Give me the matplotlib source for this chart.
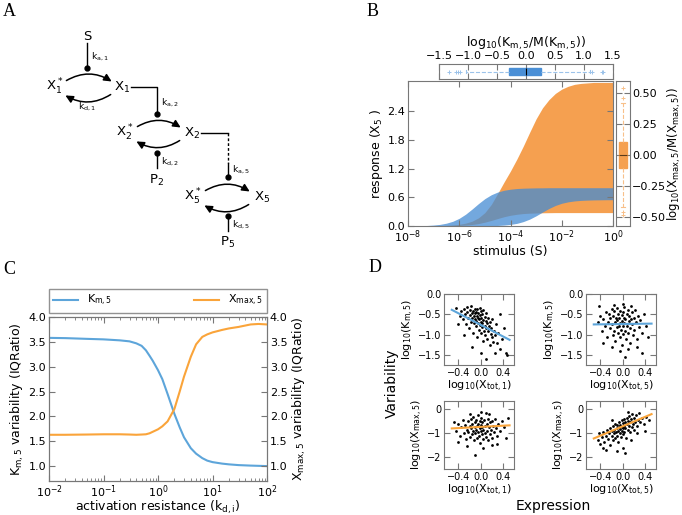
import numpy as np
import matplotlib
matplotlib.use("Agg")
import matplotlib.pyplot as plt
from matplotlib.patches import FancyArrowPatch

BLUE = '#5DA5DA'
ORANGE = '#FAA43A'
FILL_BLUE = '#448BD3'
FILL_ORANGE = '#F5A050'
BOX_BLUE = '#4A8FD6'
LIGHT_BLUE = '#9CC3EA'
LIGHT_ORANGE = '#F8C08A'
GREY = '#777777'

# ---- panel B: response bands (log10 stimulus grid) ----
stim_exp = [-8.0, -7.75, -7.5, -7.25, -7.0, -6.75, -6.5, -6.25, -6.0, -5.75, -5.5,
            -5.25, -5.0, -4.75, -4.5, -4.25, -4.0, -3.75, -3.5, -3.25, -3.0, -2.75,
            -2.5, -2.25, -2.0, -1.75, -1.5, -1.25, -1.0, -0.75, -0.5, -0.25, 0.0]
km_band_hi = [0.002, 0.004, 0.006, 0.011, 0.02, 0.034, 0.059, 0.099, 0.161, 0.247, 0.354,
              0.468, 0.572, 0.653, 0.71, 0.747, 0.769, 0.783, 0.79, 0.794, 0.797, 0.798,
              0.8, 0.8, 0.8, 0.8, 0.8, 0.8, 0.8, 0.8, 0.8, 0.8, 0.8]
km_band_lo = [0, 0, 0, 0, 0, 0, 0, 0, 0, 0.001, 0.001,
              0.002, 0.003, 0.006, 0.011, 0.019, 0.033, 0.055, 0.092, 0.144, 0.213, 0.291,
              0.366, 0.429, 0.475, 0.505, 0.524, 0.535, 0.541, 0.545, 0.547, 0.549, 0.549]
xmax_band_hi = [0.0, 0.0, 0.001, 0.002, 0.004, 0.007, 0.012, 0.021, 0.035, 0.06, 0.1,
                0.17, 0.28, 0.45, 0.68, 0.92, 1.15, 1.4, 1.67, 1.96, 2.24, 2.47,
                2.64, 2.77, 2.86, 2.92, 2.96, 2.98, 2.99, 3.0, 3.0, 3.0, 3.0]
xmax_band_lo = [0, 0, 0, 0.001, 0.001, 0.002, 0.003, 0.006, 0.011, 0.019, 0.031,
                0.051, 0.08, 0.116, 0.156, 0.194, 0.224, 0.245, 0.26, 0.268, 0.272, 0.276,
                0.278, 0.28, 0.28, 0.28, 0.28, 0.28, 0.28, 0.28, 0.28, 0.28, 0.28]

# box summaries: whisker low, q1, median, q3, whisker high
km_box = [-1.03, -0.29, 0.0, 0.26, 1.1]
km_fliers = [-1.32, -1.21, -1.18, -1.14, 1.13, 1.31, 1.33]
xmax_box = [-0.42, -0.105, 0.0, 0.105, 0.42]
xmax_fliers = [0.54, 0.46, -0.46, -0.48]

# ---- panel C: variability vs activation resistance ----
kd = [0.01, 0.02, 0.05, 0.1, 0.2, 0.3, 0.4, 0.5, 0.6, 0.7, 0.8, 1.0, 1.2, 1.5,
      2.0, 2.5, 3.0, 4.0, 5.0, 6.5, 8, 10, 15, 20, 30, 50, 70, 100]
km_var = [3.58, 3.575, 3.56, 3.55, 3.53, 3.51, 3.47, 3.42, 3.33, 3.22, 3.12, 2.93, 2.75, 2.45,
          2.05, 1.78, 1.58, 1.36, 1.25, 1.16, 1.11, 1.08, 1.05, 1.035, 1.02, 1.01, 1.005, 1.0]
xmax_var = [1.63, 1.63, 1.635, 1.64, 1.64, 1.635, 1.63, 1.635, 1.64, 1.66, 1.69, 1.74, 1.8, 1.9,
            2.15, 2.5, 2.8, 3.2, 3.45, 3.6, 3.65, 3.69, 3.74, 3.77, 3.8, 3.85, 3.86, 3.85]

# ---- panel D: scatter clouds ----
tl_x = [-0.45, -0.38, -0.35, -0.32, -0.3, -0.28, -0.27, -0.25, -0.24, -0.22, -0.21, -0.2, -0.19, -0.18,
        -0.17, -0.16, -0.15, -0.14, -0.13, -0.12, -0.12, -0.11, -0.1, -0.1, -0.09, -0.08, -0.08, -0.07,
        -0.06, -0.06, -0.05, -0.05, -0.04, -0.03, -0.03, -0.02, -0.02, -0.01, 0.0, 0.0, 0.01, 0.01,
        0.02, 0.03, 0.03, 0.04, 0.05, 0.05, 0.06, 0.07, 0.07, 0.08, 0.09, 0.1, 0.1, 0.11, 0.12, 0.13,
        0.14, 0.15, 0.16, 0.17, 0.18, 0.19, 0.2, 0.21, 0.22, 0.24, 0.26, 0.28, 0.3, 0.32, 0.35, 0.38,
        0.42, 0.45, -0.15, 0.0, 0.1, 0.25, -0.3, 0.35, -0.4, 0.48]
tl_y = [-0.35, -0.55, -0.42, -0.62, -0.38, -0.5, -0.75, -0.45, -0.33, -0.6, -0.85, -0.4, -0.52, -0.68,
        -0.3, -0.47, -0.58, -0.95, -0.41, -0.55, -0.72, -0.36, -0.62, -0.48, -0.8, -0.44, -0.66, -0.53,
        -1.05, -0.38, -0.71, -0.58, -0.46, -0.88, -0.62, -0.35, -0.77, -0.52, -0.68, -0.95, -0.43, -0.6,
        -0.82, -0.5, -0.72, -1.15, -0.64, -0.4, -0.9, -0.57, -0.78, -1.0, -0.66, -0.48, -0.85, -0.72,
        -1.1, -0.6, -0.92, -0.78, -1.25, -0.68, -0.98, -0.85, -1.05, -0.62, -1.18, -0.9, -1.02, -0.75,
        -1.2, -0.95, -1.35, -1.1, -0.85, -1.45, -1.3, -1.45, -1.6, -1.45, -1.0, -0.5, -0.75, -1.5]
tr_x = [-0.45, -0.4, -0.38, -0.35, -0.32, -0.3, -0.28, -0.26, -0.25, -0.23, -0.22, -0.2, -0.19, -0.18,
        -0.17, -0.16, -0.15, -0.14, -0.13, -0.12, -0.11, -0.1, -0.1, -0.09, -0.08, -0.07, -0.06, -0.05,
        -0.05, -0.04, -0.03, -0.02, -0.02, -0.01, 0.0, 0.0, 0.01, 0.02, 0.03, 0.03, 0.04, 0.05, 0.06,
        0.07, 0.08, 0.09, 0.1, 0.11, 0.12, 0.13, 0.14, 0.15, 0.16, 0.17, 0.18, 0.2, 0.21, 0.22, 0.24,
        0.26, 0.28, 0.3, 0.32, 0.35, 0.38, 0.42, -0.05, 0.1, -0.2, 0.05, 0.35, -0.35, 0.0, 0.15,
        -0.15, 0.25, -0.42, 0.45]
tr_y = [-0.7, -0.55, -0.9, -0.62, -0.8, -0.45, -1.05, -0.68, -0.5, -0.85, -0.6, -0.38, -0.75, -1.0,
        -0.55, -0.9, -0.42, -0.7, -1.15, -0.58, -0.82, -0.35, -0.65, -0.95, -0.5, -0.78, -0.6, -1.05,
        -0.42, -0.72, -0.88, -0.52, -1.25, -0.66, -0.8, -0.45, -0.98, -0.58, -0.72, -0.32, -0.9, -0.62,
        -1.1, -0.5, -0.78, -0.4, -0.95, -0.66, -0.55, -0.85, -1.2, -0.62, -0.45, -0.75, -1.0, -0.58,
        -0.88, -0.4, -0.7, -1.1, -0.55, -0.82, -0.65, -0.95, -0.5, -0.78, -1.4, -1.35, -1.3, -1.55,
        -1.45, -1.2, -0.25, -0.3, -0.28, -1.3, -0.3, -1.05]
bl_x = [-0.45, -0.4, -0.38, -0.35, -0.32, -0.3, -0.28, -0.26, -0.25, -0.23, -0.22, -0.2, -0.19, -0.18,
        -0.17, -0.16, -0.15, -0.14, -0.13, -0.12, -0.11, -0.1, -0.1, -0.09, -0.08, -0.07, -0.06, -0.05,
        -0.05, -0.04, -0.03, -0.02, -0.02, -0.01, 0.0, 0.0, 0.01, 0.02, 0.03, 0.03, 0.04, 0.05, 0.06,
        0.07, 0.08, 0.09, 0.1, 0.11, 0.12, 0.13, 0.14, 0.15, 0.16, 0.17, 0.18, 0.2, 0.21, 0.22, 0.24,
        0.26, 0.28, 0.3, 0.32, 0.35, 0.38, 0.42, 0.5, -0.1, 0.05, -0.25, 0.2, -0.4, 0.0, -0.2,
        0.15, 0.3, -0.48, 0.45]
bl_y = [-0.9, -0.6, -1.1, -0.75, -0.45, -1.0, -0.65, -1.25, -0.85, -0.5, -0.95, -0.7, -1.15, -0.4,
        -0.8, -1.05, -0.6, -0.9, -0.3, -1.3, -0.75, -0.55, -1.0, -0.85, -0.45, -1.2, -0.7, -0.95,
        -0.25, -0.6, -1.1, -0.8, -0.5, -1.4, -0.9, -0.65, -0.35, -1.05, -0.75, -0.55, -1.25, -0.85,
        -0.45, -1.0, -0.7, -0.15, -1.15, -0.6, -0.9, -0.4, -1.3, -0.75, -0.55, -1.05, -0.85, -0.5,
        -1.2, -0.7, -0.95, -0.4, -0.8, -1.1, -0.6, -0.9, -0.5, -0.75, -0.35, -1.9, -1.6, -1.55,
        -1.5, -1.35, -0.1, -0.2, -0.2, -1.45, -0.55, -1.2]
br_x = [-0.45, -0.42, -0.4, -0.38, -0.35, -0.33, -0.3, -0.28, -0.27, -0.25, -0.23, -0.22, -0.2, -0.19,
        -0.18, -0.17, -0.16, -0.15, -0.14, -0.13, -0.12, -0.11, -0.1, -0.1, -0.09, -0.08, -0.07, -0.06,
        -0.05, -0.05, -0.04, -0.03, -0.02, -0.02, -0.01, 0.0, 0.0, 0.01, 0.02, 0.03, 0.03, 0.04, 0.05,
        0.06, 0.07, 0.08, 0.09, 0.1, 0.11, 0.12, 0.13, 0.14, 0.15, 0.16, 0.17, 0.18, 0.2, 0.21, 0.22,
        0.24, 0.26, 0.28, 0.3, 0.32, 0.35, 0.38, 0.42, 0.48, -0.1, 0.0, -0.3, 0.15, 0.05, -0.2,
        0.1, -0.35, 0.25, 0.4]
br_y = [-1.3, -1.0, -1.45, -1.15, -0.95, -1.35, -1.1, -0.85, -1.25, -1.0, -1.5, -0.8, -1.1, -0.9,
        -1.3, -0.7, -1.0, -0.85, -1.2, -0.6, -0.95, -0.8, -1.1, -0.65, -0.9, -1.35, -0.75, -0.55,
        -1.0, -0.82, -0.65, -1.15, -0.45, -0.9, -0.72, -0.58, -1.05, -0.8, -0.4, -0.68, -0.95, -0.52,
        -0.78, -1.2, -0.6, -0.35, -0.85, -0.5, -0.7, -0.28, -0.95, -0.55, -0.42, -0.75, -0.2, -0.6,
        -0.85, -0.38, -0.55, -0.25, -0.68, -0.45, -0.15, -0.55, -0.35, -0.6, -0.3, -0.45, -1.75, -1.6,
        -1.7, -1.3, -1.85, -0.45, -0.1, -1.6, -1.0, -0.9]

# fitted lines: x end points and y values
fit_x = [-0.52, 0.52]
tl_fit = [-0.39, -1.13]
tr_fit = [-0.75, -0.73]
bl_fit = [-0.8, -0.67]
br_fit = [-1.22, -0.2]

plt.rcParams['mathtext.default'] = 'regular'
plt.rcParams['axes.edgecolor'] = GREY
plt.rcParams['xtick.direction'] = 'in'
plt.rcParams['ytick.direction'] = 'in'
plt.rcParams['xtick.color'] = GREY
plt.rcParams['ytick.color'] = GREY
plt.rcParams['xtick.labelcolor'] = 'black'
plt.rcParams['ytick.labelcolor'] = 'black'
plt.rcParams['xtick.top'] = True
plt.rcParams['ytick.right'] = True
plt.rcParams['xtick.major.size'] = 4
plt.rcParams['ytick.major.size'] = 4
plt.rcParams['xtick.minor.size'] = 2
plt.rcParams['ytick.minor.size'] = 2

W, H = 682, 515


def px_rect(left, top, right, bottom):
    return [left / W, 1 - bottom / H, (right - left) / W, (bottom - top) / H]


def arc(ax, p0, p1):
    a = FancyArrowPatch(p0, p1, connectionstyle='arc3,rad=-0.33',
                        arrowstyle='-|>,head_length=0.45,head_width=0.22',
                        mutation_scale=10, lw=1.1, color='k')
    ax.add_patch(a)


def draw_cascade(ax):
    fs = 9.5
    ks = 6.5
    ax.text(87, 36, 'S', fontsize=fs, ha='center', va='center')
    ax.plot([87, 87], [43, 68], color='k', lw=1)
    ax.plot(87, 68, 'o', color='k', ms=3.5)
    ax.text(91, 57, '$k_{a,1}$', fontsize=ks, ha='left', va='center')
    # level 1
    ax.text(55, 87, '$X_1^*$', fontsize=fs, ha='center', va='center')
    ax.text(122, 87, '$X_1$', fontsize=fs, ha='center', va='center')
    arc(ax, (64, 82), (114, 83))
    arc(ax, (113, 93), (63, 94))
    ax.text(87, 107, '$k_{d,1}$', fontsize=ks, ha='center', va='center')
    ax.plot([131, 157, 157], [87, 87, 113], color='k', lw=1)
    ax.plot(157, 114, 'o', color='k', ms=3.5)
    ax.text(161, 103, '$k_{a,2}$', fontsize=ks, ha='left', va='center')
    # level 2
    ax.text(125, 133, '$X_2^*$', fontsize=fs, ha='center', va='center')
    ax.text(192, 133, '$X_2$', fontsize=fs, ha='center', va='center')
    arc(ax, (135, 128), (183, 129))
    arc(ax, (182, 139), (134, 140))
    ax.plot(157, 153, 'o', color='k', ms=3.5)
    ax.plot([157, 157], [153, 168], color='k', lw=1)
    ax.text(161, 162, '$k_{d,2}$', fontsize=ks, ha='left', va='center')
    ax.text(157, 180, '$P_2$', fontsize=fs, ha='center', va='center')
    ax.plot([201, 228], [133, 133], color='k', lw=1)
    ax.plot([228, 228], [133, 163], color='k', lw=1, ls=(0, (2, 1.5)))
    ax.plot([228, 228], [163, 176], color='k', lw=1)
    ax.plot(228, 177, 'o', color='k', ms=3.5)
    ax.text(232, 170, '$k_{a,5}$', fontsize=ks, ha='left', va='center')
    # level 5
    ax.text(193, 197, '$X_5^*$', fontsize=fs, ha='center', va='center')
    ax.text(262, 197, '$X_5$', fontsize=fs, ha='center', va='center')
    arc(ax, (203, 192), (252, 193))
    arc(ax, (251, 203), (202, 204))
    ax.plot(228, 216, 'o', color='k', ms=3.5)
    ax.plot([228, 228], [216, 231], color='k', lw=1)
    ax.text(232, 225, '$k_{d,5}$', fontsize=ks, ha='left', va='center')
    ax.text(228, 242, '$P_5$', fontsize=fs, ha='center', va='center')


fig = plt.figure(figsize=(6.82, 5.15), dpi=100)

canvas = fig.add_axes([0, 0, 1, 1])
canvas.set_xlim(0, W)
canvas.set_ylim(H, 0)
canvas.axis('off')
draw_cascade(canvas)
for letter, (lx, ly) in {'A': (9, 12), 'B': (373, 11), 'C': (9, 269), 'D': (375, 267)}.items():
    canvas.text(lx, ly, letter, fontsize=13, family='Liberation Serif', ha='center', va='center')
canvas.text(392, 383, 'Variability', fontsize=10, rotation=90, ha='center', va='center')
canvas.text(553, 506, 'Expression', fontsize=10, ha='center', va='center')

# ---- B main ----
stim = 10.0 ** np.array(stim_exp)
axb = fig.add_axes(px_rect(408, 81, 613, 226))
axb.fill_between(stim, xmax_band_lo, xmax_band_hi, color=FILL_ORANGE, lw=0)
axb.fill_between(stim, km_band_lo, km_band_hi, color=FILL_BLUE, alpha=0.75, lw=0)
axb.set_xscale('log')
axb.set_xlim(1e-8, 1)
axb.set_ylim(0, 3.03)
axb.set_xticks([1e-8, 1e-6, 1e-4, 1e-2, 1])
axb.set_yticks([0, 0.6, 1.2, 1.8, 2.4])
axb.tick_params(labelsize=8, pad=2)
axb.set_xlabel('stimulus (S)', fontsize=9, labelpad=0)
axb.set_ylabel('response (X$_5$ )', fontsize=9, labelpad=2)

# top box: Km spread
axt = fig.add_axes(px_rect(439, 64, 613, 79))
kst = [dict(whislo=km_box[0], q1=km_box[1], med=km_box[2], q3=km_box[3],
            whishi=km_box[4], fliers=np.array(km_fliers))]
axt.bxp(kst, orientation='horizontal', widths=0.5, patch_artist=True,
        boxprops=dict(facecolor=BOX_BLUE, edgecolor=BOX_BLUE),
        medianprops=dict(color='k', lw=0.8),
        whiskerprops=dict(color=LIGHT_BLUE, ls='--', lw=0.8),
        capprops=dict(color=LIGHT_BLUE, lw=0.8),
        flierprops=dict(marker='+', markeredgecolor=LIGHT_BLUE, markersize=3, markeredgewidth=0.7))
axt.set_xlim(-1.5, 1.5)
axt.set_ylim(0.5, 1.5)
axt.set_yticks([])
axt.set_xticks([-1.5, -1.0, -0.5, 0.0, 0.5, 1.0, 1.5])
axt.xaxis.tick_top()
axt.tick_params(axis='x', top=True, bottom=True, labeltop=True, labelbottom=False, labelsize=8, pad=2)
axt.xaxis.set_label_position('top')
axt.set_xlabel('log$_{10}$(K$_{m,5}$/M(K$_{m,5}$))', fontsize=9, labelpad=3)

# right box: Xmax spread
axr = fig.add_axes(px_rect(616, 81, 630, 226))
xst = [dict(whislo=xmax_box[0], q1=xmax_box[1], med=xmax_box[2], q3=xmax_box[3],
            whishi=xmax_box[4], fliers=np.array(xmax_fliers))]
axr.bxp(xst, orientation='vertical', widths=0.55, patch_artist=True,
        boxprops=dict(facecolor=FILL_ORANGE, edgecolor=FILL_ORANGE),
        medianprops=dict(color='#5a3a1a', lw=0.8),
        whiskerprops=dict(color=LIGHT_ORANGE, ls='--', lw=0.8),
        capprops=dict(color=LIGHT_ORANGE, lw=0.8),
        flierprops=dict(marker='+', markeredgecolor=LIGHT_ORANGE, markersize=3, markeredgewidth=0.7))
axr.set_ylim(-0.57, 0.6)
axr.set_xlim(0.5, 1.5)
axr.set_xticks([])
axr.set_yticks([-0.5, -0.25, 0.0, 0.25, 0.5])
axr.yaxis.tick_right()
axr.tick_params(axis='y', left=True, right=True, labelleft=False, labelright=True, labelsize=8, pad=1.5)
axr.yaxis.set_label_position('right')
axr.set_ylabel('log$_{10}$(X$_{max,5}$/M(X$_{max,5}$))', fontsize=8.5, labelpad=0)

# ---- C ----
axc = fig.add_axes(px_rect(49, 317, 267, 481))
l1, = axc.plot(kd, km_var, color=BLUE, lw=1.5, label='K$_{m,5}$')
axc2 = axc.twinx()
l2, = axc2.plot(kd, xmax_var, color=ORANGE, lw=1.5, label='X$_{max,5}$')
axc.set_xscale('log')
axc.set_xlim(1e-2, 1e2)
for a in (axc, axc2):
    a.set_ylim(0.7, 4.0)
    a.set_yticks([1.0, 1.5, 2.0, 2.5, 3.0, 3.5, 4.0])
    a.tick_params(labelsize=8, pad=2)
axc.tick_params(axis='y', right=False)
axc.set_xlabel('activation resistance (k$_{d,i}$)', fontsize=9, labelpad=-1)
axc.set_ylabel('K$_{m,5}$ variability (IQRatio)', fontsize=9, labelpad=2)
axc2.set_ylabel('X$_{max,5}$ variability (IQRatio)', fontsize=9, labelpad=2)
leg = axc.legend([l1, l2], ['K$_{m,5}$', 'X$_{max,5}$'], loc='lower left',
                 bbox_to_anchor=(0, 1.025, 1, 0.12), mode='expand', ncol=2,
                 borderaxespad=0, fontsize=8, fancybox=False, handlelength=2.2)
leg.get_frame().set_edgecolor(GREY)

# ---- D ----
panels = [
    (px_rect(444, 294, 514, 365), tl_x, tl_y, fit_x, tl_fit, BLUE, (-1.75, 0.0), [0.0, -0.5, -1.0, -1.5],
     'log$_{10}$(K$_{m,5}$)', 'log$_{10}$(X$_{tot,1}$)'),
    (px_rect(586, 294, 656, 365), tr_x, tr_y, fit_x, tr_fit, BLUE, (-1.75, 0.0), [0.0, -0.5, -1.0, -1.5],
     'log$_{10}$(K$_{m,5}$)', 'log$_{10}$(X$_{tot,5}$)'),
    (px_rect(444, 401, 514, 469), bl_x, bl_y, fit_x, bl_fit, ORANGE, (-2.5, 0.35), [0, -1, -2],
     'log$_{10}$(X$_{max,5}$)', 'log$_{10}$(X$_{tot,1}$)'),
    (px_rect(586, 401, 656, 469), br_x, br_y, fit_x, br_fit, ORANGE, (-2.5, 0.35), [0, -1, -2],
     'log$_{10}$(X$_{max,5}$)', 'log$_{10}$(X$_{tot,5}$)'),
]
for rect, sx, sy, fx, fy, col, ylim, yt, ylab, xlab in panels:
    ax = fig.add_axes(rect)
    ax.scatter(sx, sy, s=4, c='k', marker='o', lw=0, zorder=2)
    ax.plot(fx, fy, color=col, lw=1.5, zorder=3)
    ax.set_xlim(-0.66, 0.6)
    ax.set_ylim(*ylim)
    ax.set_xticks([-0.4, 0.0, 0.4])
    ax.set_yticks(yt)
    ax.tick_params(labelsize=7, pad=2)
    ax.set_ylabel(ylab, fontsize=8, labelpad=1)
    ax.set_xlabel(xlab, fontsize=8, labelpad=1)

fig.savefig('out.png', dpi=100)
